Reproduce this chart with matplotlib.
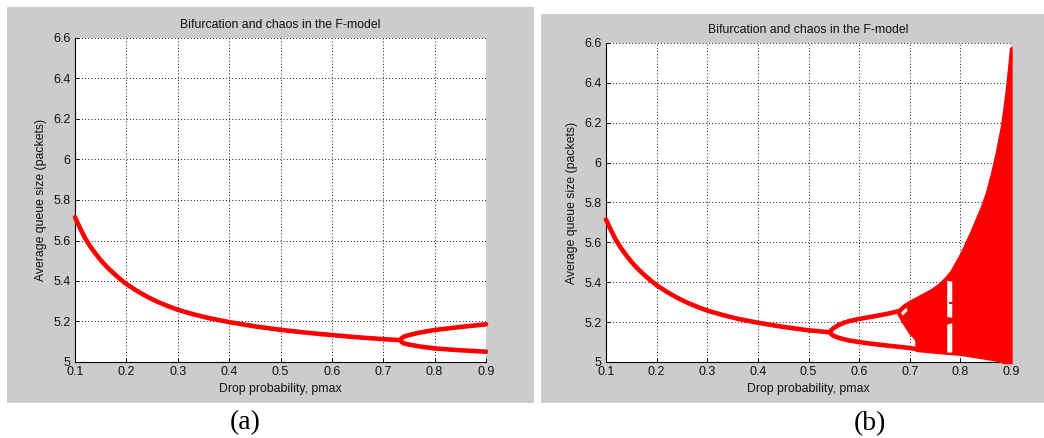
import matplotlib.pyplot as plt
from matplotlib.patches import Rectangle

plt.rcParams['font.family'] = ['Liberation Sans', 'DejaVu Sans']

W, H = 1044, 438

# x / y ticks shared by both panels
x_ticks = [0.1, 0.2, 0.3, 0.4, 0.5, 0.6, 0.7, 0.8, 0.9]
x_labels = ["0.1", "0.2", "0.3", "0.4", "0.5", "0.6", "0.7", "0.8", "0.9"]
y_ticks = [5.0, 5.2, 5.4, 5.6, 5.8, 6.0, 6.2, 6.4, 6.6]
y_labels = ["5", "5.2", "5.4", "5.6", "5.8", "6", "6.2", "6.4", "6.6"]

# stable fixed point, same in both panels
stable_p = [0.10, 0.11, 0.12, 0.13, 0.14, 0.15, 0.16, 0.17, 0.18, 0.19, 0.20,
            0.22, 0.24, 0.26, 0.28, 0.30, 0.33, 0.36, 0.40, 0.45, 0.50]
stable_q = [5.715, 5.66, 5.61, 5.57, 5.535, 5.503, 5.475, 5.45, 5.427, 5.405, 5.385,
            5.352, 5.323, 5.298, 5.277, 5.258, 5.236, 5.217, 5.197, 5.176, 5.159]

# panel (a): period doubling near pmax = 0.733
a_tail_p = [0.50, 0.55, 0.60, 0.65, 0.70, 0.733]
a_tail_q = [5.159, 5.145, 5.133, 5.122, 5.113, 5.108]
a_up_p = [0.733, 0.736, 0.74, 0.75, 0.77, 0.80, 0.85, 0.90]
a_up_q = [5.108, 5.118, 5.125, 5.133, 5.145, 5.158, 5.173, 5.186]
a_lo_p = [0.733, 0.736, 0.74, 0.75, 0.77, 0.80, 0.85, 0.90]
a_lo_q = [5.108, 5.098, 5.092, 5.086, 5.077, 5.067, 5.058, 5.051]

# panel (b): doubling at 0.5425, then chaos
b_tail_p = [0.50, 0.5425]
b_tail_q = [5.159, 5.149]
b_up_p = [0.5425, 0.545, 0.55, 0.56, 0.57, 0.58, 0.60, 0.62, 0.64, 0.66, 0.676]
b_up_q = [5.149, 5.16, 5.171, 5.186, 5.197, 5.205, 5.216, 5.225, 5.234, 5.244, 5.254]
b_lo_p = [0.5425, 0.545, 0.55, 0.56, 0.57, 0.58, 0.60, 0.62, 0.64, 0.66, 0.68, 0.70, 0.712]
b_lo_q = [5.149, 5.139, 5.131, 5.121, 5.114, 5.108, 5.100, 5.093, 5.087, 5.081, 5.076,
          5.07, 5.066]

# chaotic band envelope
band_p = [0.676, 0.685, 0.69, 0.695, 0.70, 0.705, 0.711, 0.712, 0.72, 0.74, 0.757,
          0.77, 0.78, 0.79, 0.80, 0.81, 0.82, 0.83, 0.84, 0.85, 0.86, 0.87, 0.88,
          0.885, 0.89, 0.895, 0.898, 0.901]
band_hi = [5.262, 5.283, 5.292, 5.30, 5.308, 5.315, 5.322, 5.324, 5.335, 5.362, 5.392,
           5.425, 5.455, 5.50, 5.545, 5.60, 5.655, 5.715, 5.775, 5.845, 5.94, 6.05, 6.18,
           6.27, 6.37, 6.49, 6.575, 6.58]
band_lo = [5.24, 5.20, 5.18, 5.16, 5.14, 5.13, 5.11, 5.056, 5.054, 5.049, 5.045,
           5.042, 5.04, 5.038, 5.036, 5.032, 5.028, 5.024, 5.02, 5.016, 5.012, 5.007, 5.0,
           4.996, 4.995, 4.995, 4.995, 4.995]

# holes inside the band
diamond_p = [0.683, 0.693, 0.696, 0.686]
diamond_q = [5.248, 5.272, 5.258, 5.232]
window_p = [0.773, 0.783]
window_top_lo = [5.228, 5.225]
window_top_hi = [5.41, 5.405]
window_bot_lo = [5.05, 5.05]
window_bot_hi = [5.19, 5.197]
notch_p = [0.779, 0.784]
notch_q = [5.296, 5.296]

RED = "#ff0000"
LW = 3.3


def add_panel_bg(fig, x0, y0, x1, y1):
    # gray matlab figure background, given in pixels from top-left
    fig.patches.append(Rectangle((x0 / W, 1 - y1 / H), (x1 - x0) / W, (y1 - y0) / H,
                                 transform=fig.transFigure, facecolor="#cccccc",
                                 edgecolor="none", zorder=-10))


def make_axes(fig, left, top, right, bottom):
    ax = fig.add_axes([left / W, 1 - bottom / H, (right - left) / W, (bottom - top) / H])
    ax.set_zorder(1)
    ax.set_facecolor("white")
    ax.set_xlim(0.1, 0.9)
    ax.set_ylim(5.0, 6.6)
    ax.set_xticks(x_ticks)
    ax.set_xticklabels(x_labels)
    ax.set_yticks(y_ticks)
    ax.set_yticklabels(y_labels)
    ax.tick_params(direction="in", length=3, width=0.7, labelsize=9,
                   colors="#111111", pad=3)
    ax.grid(True, color="#222222", linestyle=(0, (1, 2.2)), linewidth=0.72)
    ax.set_axisbelow(True)
    for s in ("top", "right"):
        ax.spines[s].set_visible(False)
    for s in ("left", "bottom"):
        ax.spines[s].set_linewidth(0.8)
    hpx = bottom - top
    wpx = right - left
    ax.set_title("Bifurcation and chaos in the F-model", fontsize=8.8, pad=7.5,
                 color="#111111")
    ax.set_xlabel("Drop probability, pmax", fontsize=8.8, va="center", color="#111111")
    ax.xaxis.set_label_coords(0.5, -27 / hpx)
    ax.set_ylabel("Average queue size (packets)", fontsize=8.8, va="center",
                  color="#111111")
    ax.yaxis.set_label_coords(-34 / wpx, 0.5)
    return ax


def red_line(ax, p, q):
    ax.plot(p, q, color=RED, lw=LW, solid_capstyle="round",
            solid_joinstyle="round", clip_on=False, zorder=4)


fig = plt.figure(figsize=(W / 100, H / 100), dpi=100)
fig.patch.set_facecolor("white")

add_panel_bg(fig, 7, 7, 534, 403)
add_panel_bg(fig, 541, 14, 1044, 403)

# (a)
ax_a = make_axes(fig, 75, 38, 486, 362)
red_line(ax_a, stable_p, stable_q)
red_line(ax_a, a_tail_p, a_tail_q)
red_line(ax_a, a_up_p, a_up_q)
red_line(ax_a, a_lo_p, a_lo_q)

# (b)
ax_b = make_axes(fig, 606, 43, 1011, 362)
red_line(ax_b, stable_p, stable_q)
red_line(ax_b, b_tail_p, b_tail_q)
red_line(ax_b, b_up_p, b_up_q)
red_line(ax_b, b_lo_p, b_lo_q)
ax_b.fill_between(band_p, band_lo, band_hi, color=RED, lw=1.0, clip_on=False, zorder=4)
ax_b.fill(diamond_p, diamond_q, color="white", lw=0, zorder=5)
ax_b.fill_between(window_p, window_top_lo, window_top_hi, color="white", lw=0, zorder=5)
ax_b.fill_between(window_p, window_bot_lo, window_bot_hi, color="white", lw=0, zorder=5)
ax_b.plot(notch_p, notch_q, color=RED, lw=1.5, zorder=6)

fig.text(245 / W, 1 - 423 / H, "(a)", ha="center", va="center",
         family=["Liberation Serif", "DejaVu Serif"], fontsize=20)
fig.text(870 / W, 1 - 424 / H, "(b)", ha="center", va="center",
         family=["Liberation Serif", "DejaVu Serif"], fontsize=20)

fig.savefig("out.png", dpi=100)
